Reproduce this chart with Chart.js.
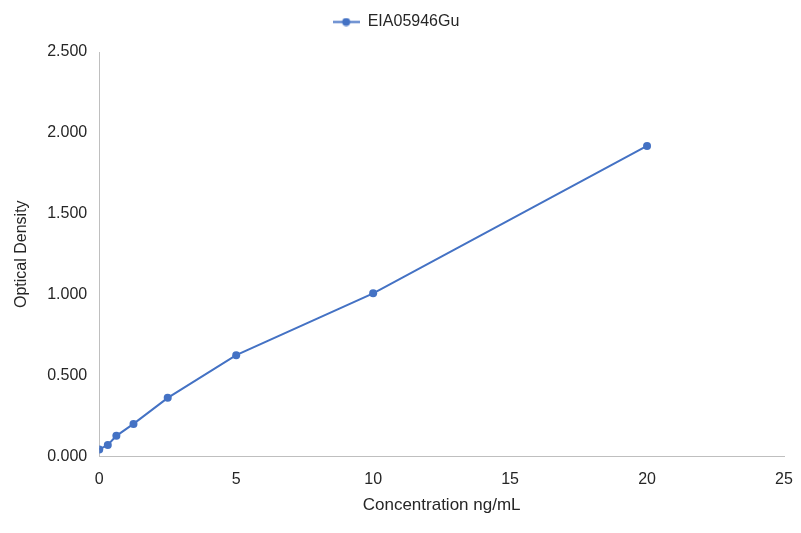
<!DOCTYPE html>
<html>
<head>
<meta charset="utf-8">
<script src="https://cdn.jsdelivr.net/npm/chart.js@4.4.1/dist/chart.umd.min.js"></script>
<style>
  html, body { margin: 0; padding: 0; background: #fff; }
</style>
</head>
<body>
<canvas id="std" width="801" height="533"></canvas>
<script>
// standard curve
const seriesName = "EIA05946Gu";
const concentrations = [0, 0.3125, 0.625, 1.25, 2.5, 5, 10, 20];
const opticalDensity = [0.043, 0.071, 0.127, 0.201, 0.362, 0.626, 1.008, 1.919];
const xTitle = "Concentration ng/mL";
const yTitle = "Optical Density";

const blue = "#4472C4";
const txt = "#262626";
const fontFam = "Liberation Sans";

// legend marker: short line with a dot, like the spreadsheet legend
function legendMarker() {
  const c = document.createElement("canvas");
  c.width = 27; c.height = 9;
  const g = c.getContext("2d");
  g.strokeStyle = blue; g.lineWidth = 2;
  g.beginPath(); g.moveTo(0, 4.5); g.lineTo(27, 4.5); g.stroke();
  g.fillStyle = blue;
  g.beginPath(); g.arc(13.5, 4.5, 4, 0, Math.PI * 2); g.fill();
  return c;
}

// extra room under the legend
const legendGap = {
  id: "legendGap",
  beforeInit(chart) {
    const fit = chart.legend.fit;
    chart.legend.fit = function () {
      fit.bind(chart.legend)();
      this.height += 12;
    };
  },
};

const ctx = document.getElementById("std");
new Chart(ctx, {
  type: "scatter",
  data: {
    datasets: [
      {
        label: seriesName,
        data: concentrations.map((x, i) => ({ x: x, y: opticalDensity[i] })),
        showLine: true,
        borderColor: blue,
        backgroundColor: blue,
        borderWidth: 2,
        pointRadius: 4,
        pointBorderWidth: 0,
        pointHoverRadius: 4,
      },
    ],
  },
  options: {
    responsive: false,
    animation: false,
    devicePixelRatio: 1,
    layout: { padding: { left: 8, right: 17, top: 4, bottom: 13 } },
    plugins: {
      legend: {
        position: "top",
        labels: {
          usePointStyle: true,
          pointStyleWidth: 27,
          color: txt,
          font: { family: fontFam, size: 16 },
          generateLabels: (chart) => [
            {
              text: seriesName,
              pointStyle: legendMarker(),
              fontColor: txt,
              datasetIndex: 0,
            },
          ],
        },
      },
      tooltip: { enabled: false },
    },
    scales: {
      x: {
        type: "linear",
        min: 0,
        max: 25,
        afterFit: (s) => { s.paddingRight = 0; },
        ticks: { stepSize: 5, color: txt, font: { family: fontFam, size: 16 }, padding: 14 },
        grid: { display: false, drawTicks: false },
        border: { color: "#BFBFBF", width: 1 },
        title: {
          display: true,
          text: xTitle,
          color: txt,
          font: { family: fontFam, size: 17 },
          padding: { top: -8, bottom: 4 },
        },
      },
      y: {
        min: 0,
        max: 2.5,
        ticks: {
          stepSize: 0.5,
          color: txt,
          font: { family: fontFam, size: 16 },
          padding: 12,
          callback: (v) => v.toFixed(3),
        },
        grid: { display: false, drawTicks: false },
        border: { color: "#BFBFBF", width: 1 },
        title: {
          display: true,
          text: yTitle,
          color: txt,
          font: { family: fontFam, size: 16 },
          padding: { top: 4, bottom: 4 },
        },
      },
    },
  },
  plugins: [legendGap],
});
</script>
</body>
</html>
